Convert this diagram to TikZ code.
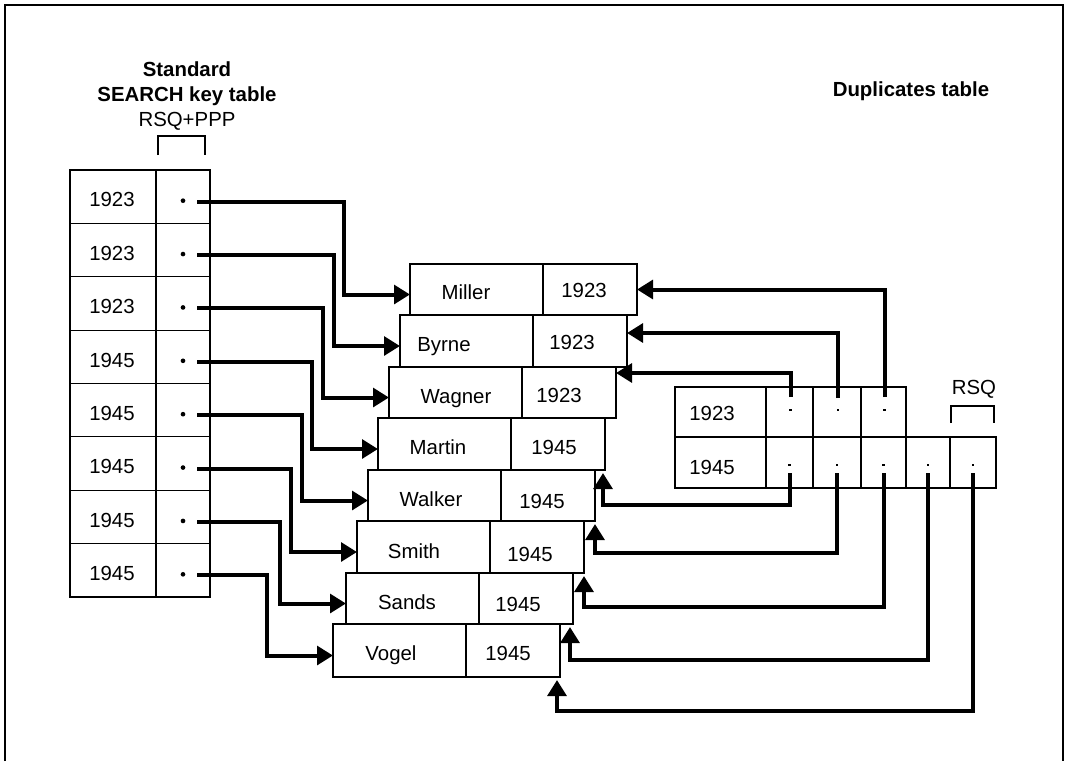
\documentclass[tikz,border=0pt]{standalone}
\usepackage{fontspec}
\setmainfont{Liberation Sans}
\usetikzlibrary{arrows.meta,fit,calc}
\begin{document}
\begin{tikzpicture}[x=0.75pt,y=-0.75pt,
  font=\fontsize{15.3pt}{18pt}\selectfont,
  cell/.style={draw, line width=0.8pt, inner sep=0pt, outer sep=0pt},
  thin/.style={line width=0.8pt},
  conn/.style={line width=3pt, -{Triangle[length=12pt,width=14pt]}},
  lbl/.style={inner sep=0pt, text height=10.9pt, text depth=0pt},
  boldlbl/.style={lbl, font=\fontsize{15.3pt}{18pt}\selectfont\bfseries},
  ldot/.style={circle, fill, inner sep=0pt, minimum size=3.5pt},
  rdot/.style={rectangle, fill, inner sep=0pt, minimum size=2.2pt}]
\useasboundingbox (0,0) rectangle (1067,761);
% frame
\draw[thin] (5,761) -- (5,5) -- (1063,5) -- (1063,761);

% titles
\node[boldlbl] (t1) at (187,69) {Standard};
\node[boldlbl] (t2) at (187,94) {SEARCH key table};
\node[lbl] (t3) at (187,119) {RSQ+PPP};
\node[boldlbl] (t4) at (911,89) {Duplicates table};
\draw[thin] (158,155) -- (158,136) -- (205,136) -- (205,155);

% standard search key table
\foreach \i/\yr in {1/1923,2/1923,3/1923,4/1945,5/1945,6/1945,7/1945,8/1945} {
  \pgfmathsetmacro\t{170+53.375*(\i-1)}
  \pgfmathsetmacro\b{\t+53.375}
  \node[cell, fit={(70,\t) (156,\b)}] (k\i) {};
  \node[cell, fit={(156,\t) (210,\b)}] (p\i) {};
  \node[lbl] (kt\i) at ($(k\i.center)+(-1,3)$) {\yr};
  \node[ldot] (d\i) at ($(p\i.center)+(0,4)$) {};
}

% records
\foreach \i/\L/\T/\B/\nm/\yr/\nx/\ny/\yx/\yy in {
1/410/264/315/Miller/1923/466/292/584/290,
2/400/315/367/Byrne/1923/444/344/572/342,
3/389/367/418/Wagner/1923/456/396/559/395,
4/378/418/470/Martin/1945/438/447/554/447,
5/368/470/521/Walker/1945/431/499/542/501,
6/357/521/573/Smith/1945/414/551/530/554,
7/346/573/624/Sands/1945/407/602/518/604,
8/333/624/677/Vogel/1945/391/653/508/653} {
  \pgfmathsetmacro\D{\L+133}
  \pgfmathsetmacro\R{\L+227}
  \node[cell, fit={(\L,\T) (\D,\B)}] (n\i) {};
  \node[cell, fit={(\D,\T) (\R,\B)}] (y\i) {};
  \node[lbl] (nt\i) at (\nx,\ny) {\nm};
  \node[lbl] (yt\i) at (\yx,\yy) {\yr};
}

% arrows from search key table to records
\foreach \i in {1,...,8} {
  \draw[conn] ($(d\i)+(14,1)$) -| ($(n\i.west)+(-66,5)$) -- ($(n\i.west)+(0,5)$);
}

% duplicates table
\node[cell, fit={(675,387) (766,437)}] (e1) {};
\node[cell, fit={(675,437) (766,488)}] (e2) {};
\node[lbl] (et1) at (712,413) {1923};
\node[lbl] (et2) at (712,467) {1945};
\foreach \j/\a/\b in {1/766/813,2/813/861,3/861/906} {
  \node[cell, fit={(\a,387) (\b,437)}] (ac\j) {};
  \node[rdot] (a\j) at ($(ac\j.center)+(1,-2)$) {};
}
\foreach \j/\a/\b in {1/766/813,2/813/861,3/861/906,4/906/950,5/950/996} {
  \node[cell, fit={(\a,437) (\b,488)}] (bc\j) {};
  \node[rdot] (b\j) at ($(bc\j.center)+(0,2.5)$) {};
}
\node[lbl] (rsq) at (974,387) {RSQ};
\draw[thin] (951,423) -- (951,406) -- (994,406) -- (994,423);

% arrows from duplicates table to records
\draw[conn] ($(a1)+(0,-13)$) |- ($(y3.north east)+(0,6)$);
\draw[conn] ($(a2)+(0,-12)$) |- ($(y2.north east)+(0,18)$);
\draw[conn] ($(a3)+(0,-13)$) |- (y1.east);

\draw[conn] ($(b1)+(0,8)$) |- ($(y4.south east)+(-2,35)$) -- ($(y4.south east)+(-2,3)$);
\draw[conn] ($(b2)+(0,8)$) |- ($(y5.south east)+(0,32)$) -- ($(y5.south east)+(0,3)$);
\draw[conn] ($(b3)+(0,8)$) |- ($(y6.south east)+(0,34)$) -- ($(y6.south east)+(0,3)$);
\draw[conn] ($(b4)+(0,8)$) |- ($(y7.south east)+(-3,36)$) -- ($(y7.south east)+(-3,3)$);
\draw[conn] ($(b5)+(0,8)$) |- ($(y8.south east)+(-3,34)$) -- ($(y8.south east)+(-3,3)$);
\end{tikzpicture}
\end{document}
